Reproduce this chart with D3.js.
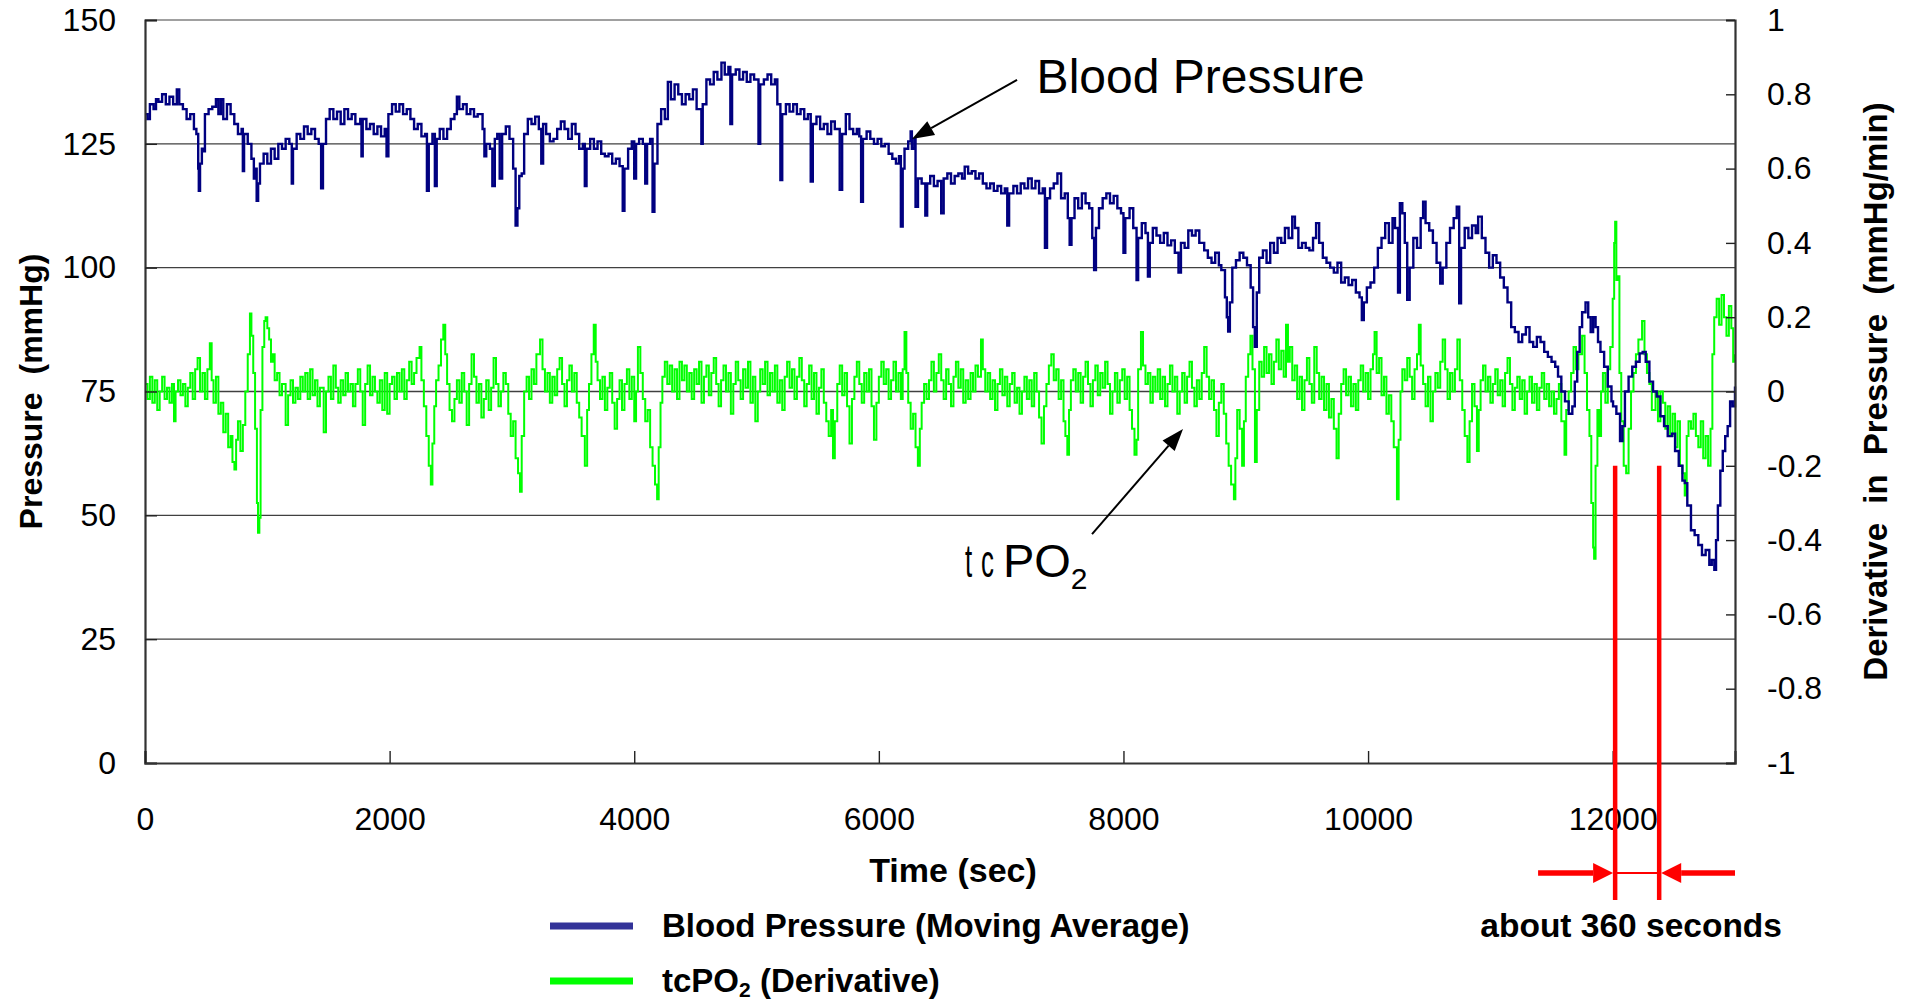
<!DOCTYPE html>
<html><head><meta charset="utf-8">
<script src="https://cdn.jsdelivr.net/npm/d3@7"></script>
<style>
body{margin:0;background:#fff;}
svg{display:block;}
text{font-family:"Liberation Sans",Arial,sans-serif;fill:#000;}
</style>
</head><body>
<svg id="chart" width="1912" height="1001"></svg>
<script>
// ---------- data ----------
const timeTicks = [0, 2000, 4000, 6000, 8000, 10000, 12000];
const pressureTicks = [0, 25, 50, 75, 100, 125, 150];
const derivativeTicks = [-1, -0.8, -0.6, -0.4, -0.2, 0, 0.2, 0.4, 0.6, 0.8, 1];
const seriesNames = ["Blood Pressure (Moving Average)", "tcPO2 (Derivative)"];
const markerTimes = [12020, 12380];
const markerLabel = "about 360 seconds";

// Blood pressure moving average [time (sec), mmHg]
const bloodPressure = [
[0,131],[20,130],[40,133],[70,132],[90,134],[110,133.5],[140,135],[170,133],[200,134.5],[230,133],[260,136],[280,133],[310,132],[340,130],[370,131],[400,128],[420,127],[435,120],[440,115.5],[450,121],[465,124],[480,123.5],[490,131],[520,132],[550,132.5],[580,134],[600,131],[620,134],[640,130],[670,133],[700,131],[730,129],[760,127],[790,128],[800,119.5],[810,127],[840,125],[870,122],[890,118],[900,120],[913,113.5],[925,117],[940,121],[970,123],[1000,121],[1030,124],[1060,122],[1090,125],[1120,124],[1150,126],[1180,125],[1200,117],[1210,124],[1240,127],[1270,126],[1300,128.5],[1330,127],[1360,128],[1390,126],[1420,125],[1440,116],[1455,125],[1480,130],[1510,132],[1540,130],[1570,131.5],[1600,129],[1630,132],[1660,130],[1690,131],[1720,129],[1760,130],[1770,122.5],[1780,130],[1810,128],[1840,129],[1870,127],[1900,128.5],[1930,126.5],[1960,128],[1975,122.5],[1990,131],[2020,133],[2050,131.5],[2080,133],[2110,131],[2140,132],[2170,130],[2200,128],[2230,129],[2260,126.5],[2290,127],[2305,115.5],[2320,125],[2350,127],[2370,116.5],[2385,126],[2410,128],[2440,126],[2470,128],[2500,130],[2530,131],[2550,134.5],[2570,132],[2600,133],[2630,131],[2660,132],[2690,130.5],[2720,131],[2760,128],[2775,122.5],[2790,125],[2820,124],[2840,116.5],[2860,126],[2880,127],[2900,118],[2920,127],[2950,128.5],[2980,126],[3010,120],[3030,108.5],[3045,112],[3060,118.5],[3080,119],[3100,127],[3130,130],[3160,129],[3190,130.5],[3220,128],[3240,121],[3255,129],[3280,127],[3310,125.5],[3340,126],[3370,128],[3400,129.5],[3430,128],[3460,126],[3490,129],[3520,127],[3550,124],[3580,125],[3596,116.5],[3610,124],[3640,126],[3670,124],[3700,125.5],[3730,123],[3760,122.5],[3790,123],[3820,121],[3850,122],[3880,120.5],[3906,111.5],[3920,120],[3950,124],[3980,125.5],[4000,118],[4015,125],[4040,126],[4070,125],[4090,117],[4105,125],[4130,126],[4150,111.3],[4165,121],[4190,129],[4220,132],[4250,130],[4275,137.5],[4300,134],[4330,137],[4360,135],[4390,133],[4420,135],[4450,134],[4480,136],[4510,132],[4549,125],[4560,133],[4590,138],[4620,137],[4650,139.5],[4680,138],[4713,141.4],[4740,139],[4770,140.5],[4786,129],[4800,139],[4830,140],[4860,138],[4890,139.5],[4920,137.5],[4950,139],[4980,138],[5016,125],[5030,137],[5060,138],[5090,139],[5120,137],[5150,138],[5170,133],[5195,117.7],[5210,131],[5240,133],[5270,131.5],[5300,133],[5330,131],[5360,132],[5390,130],[5420,131],[5443,117.4],[5460,129],[5490,130.5],[5520,128],[5550,129],[5580,127],[5610,129.5],[5640,128],[5680,115.7],[5700,127],[5730,131],[5760,128],[5790,127],[5820,128],[5840,126.5],[5855,113.3],[5870,126],[5900,127.5],[5930,126],[5960,125],[5990,126],[6020,124.5],[6050,125],[6080,123],[6110,122],[6140,121],[6165,122.5],[6180,108.3],[6195,120],[6210,124],[6240,125.5],[6260,127.5],[6270,124],[6290,126],[6300,112.3],[6320,118],[6350,117],[6380,110.5],[6395,117],[6420,118.5],[6450,116.5],[6480,117.5],[6510,111],[6530,118],[6560,119],[6590,117],[6620,118.5],[6650,119],[6680,118],[6702,120.4],[6730,119],[6760,119.5],[6790,118],[6820,119],[6850,117],[6880,116],[6910,117],[6940,115.5],[6970,116.5],[7000,115],[7030,116],[7050,108.5],[7065,115],[7100,116.5],[7130,115],[7160,117],[7190,116],[7220,118],[7250,116],[7280,117.5],[7310,115],[7340,116],[7358,104],[7375,114],[7400,116],[7430,117],[7460,119],[7490,114],[7520,115],[7545,110],[7560,104.6],[7575,110],[7600,114],[7630,112],[7660,115],[7690,113],[7720,112],[7745,106],[7760,99.5],[7775,108],[7800,112],[7830,114],[7860,115],[7890,113],[7920,114.5],[7950,112],[7980,111],[8000,103],[8015,110],[8050,112],[8080,108],[8107,97.5],[8120,106],[8150,109],[8180,107],[8200,98.2],[8215,105],[8240,108],[8270,106.5],[8300,105],[8330,107],[8360,104.5],[8390,105.5],[8420,103],[8450,99],[8470,105],[8500,104],[8530,107.5],[8560,106.5],[8590,107.5],[8620,105],[8660,103.5],[8690,102],[8720,101],[8750,103],[8780,100.5],[8800,99.5],[8830,94],[8845,90],[8856,87.1],[8870,93],[8890,100],[8920,101.5],[8950,103],[8980,102],[9010,100.5],[9040,96],[9060,88],[9074,84],[9090,95],[9110,102],[9140,103.5],[9170,101],[9200,105],[9230,103],[9260,106],[9290,105],[9320,108],[9350,106],[9380,110.3],[9402,108],[9430,104],[9460,105],[9490,104],[9520,103.5],[9550,106],[9575,109],[9600,105],[9630,102],[9660,101],[9690,100],[9720,99],[9750,101],[9780,97],[9810,98],[9840,96.5],[9870,97.5],[9900,95],[9930,94],[9949,89.4],[9965,93],[9990,96],[10020,97],[10050,100],[10080,104],[10110,106],[10140,109],[10170,105],[10200,110],[10220,108],[10245,95],[10260,113],[10280,111],[10300,105],[10320,93.5],[10340,100],[10370,106],[10400,104],[10430,110],[10450,113.3],[10470,109],[10500,107.5],[10530,105],[10560,101],[10590,96.8],[10610,100],[10640,105],[10670,108],[10700,110],[10725,112.3],[10745,92.8],[10760,104],[10790,108],[10820,106],[10850,108.5],[10880,107],[10900,110.3],[10930,106],[10960,103],[10990,100],[11020,102.5],[11050,101],[11080,98],[11110,96],[11140,93],[11170,88],[11200,87],[11230,85],[11260,86.5],[11290,88],[11320,85],[11350,84],[11380,86],[11410,85],[11440,83],[11470,82],[11500,81],[11530,80],[11553,78],[11580,75],[11610,73],[11640,70.5],[11670,72],[11690,77],[11710,83],[11730,88],[11750,91],[11778,93],[11800,90],[11820,87],[11840,90],[11860,88],[11880,85],[11900,83],[11930,80],[11960,76],[11990,73],[12003,72],[12030,70.5],[12060,65],[12080,68],[12100,75],[12130,78],[12160,80],[12190,81],[12220,82.7],[12245,83],[12270,81],[12300,77],[12330,75],[12360,74],[12390,70],[12420,68],[12450,66],[12485,66.5],[12510,63],[12540,60],[12570,57],[12590,56.5],[12610,52],[12640,47],[12670,46],[12700,44],[12730,42],[12760,43],[12790,40],[12810,41],[12831,39],[12845,45],[12860,52],[12880,59],[12900,63],[12920,66],[12940,68],[12960,73],[12980,72],[13000,76]
];

// tcPO2 derivative [time (sec), mmHg/min]
const tcpo2Derivative = [
[0,0.02],[20,-0.02],[40,0.04],[60,-0.03],[80,0.03],[100,-0.05],[120,0.0],[140,0.04],[160,-0.02],[180,0.01],[200,-0.03],[220,0.02],[237,-0.08],[250,0.0],[270,0.03],[290,-0.01],[310,0.02],[330,-0.04],[350,0.01],[370,0.05],[390,-0.02],[410,0.06],[430,0.09],[450,0.0],[470,0.05],[490,-0.02],[510,0.06],[530,0.13],[545,0.03],[560,-0.03],[580,0.04],[600,-0.06],[620,-0.03],[640,-0.11],[660,-0.06],[680,-0.15],[700,-0.12],[715,-0.19],[731,-0.21],[745,-0.13],[760,-0.08],[780,-0.16],[800,-0.09],[820,0.0],[840,0.1],[858,0.21],[870,0.15],[885,0.05],[900,-0.1],[915,-0.3],[924,-0.38],[935,-0.34],[945,-0.05],[960,0.12],[975,0.19],[986,0.2],[1000,0.17],[1015,0.14],[1030,0.08],[1045,0.1],[1060,0.03],[1080,0.05],[1100,-0.01],[1120,0.02],[1150,-0.09],[1170,-0.01],[1190,0.03],[1210,-0.03],[1230,0.01],[1250,-0.02],[1270,0.04],[1290,0.0],[1310,0.05],[1330,-0.02],[1350,0.06],[1370,-0.01],[1390,0.03],[1410,-0.04],[1430,0.01],[1461,-0.11],[1480,0.0],[1500,0.04],[1520,-0.02],[1540,0.07],[1560,0.01],[1580,-0.03],[1600,0.03],[1620,-0.01],[1640,0.05],[1660,0.0],[1680,0.02],[1700,-0.04],[1720,0.02],[1740,0.06],[1760,0.0],[1780,-0.09],[1800,0.02],[1820,0.07],[1840,-0.01],[1860,0.04],[1880,0.0],[1900,-0.03],[1920,0.03],[1940,-0.05],[1960,0.05],[1980,-0.06],[2000,0.02],[2020,0.04],[2040,-0.02],[2060,0.05],[2080,0.0],[2100,0.06],[2120,-0.02],[2140,0.03],[2160,0.08],[2180,0.02],[2200,0.05],[2220,0.09],[2245,0.12],[2260,0.03],[2280,-0.04],[2300,-0.12],[2320,-0.2],[2337,-0.25],[2350,-0.14],[2365,-0.04],[2380,0.03],[2400,0.07],[2420,0.14],[2439,0.18],[2455,0.1],[2470,0.02],[2490,-0.05],[2510,-0.08],[2530,-0.02],[2550,0.03],[2570,-0.03],[2590,0.05],[2610,0.0],[2630,-0.09],[2650,0.02],[2670,0.1],[2690,0.04],[2710,-0.03],[2730,0.02],[2750,-0.07],[2770,-0.02],[2790,0.03],[2810,-0.05],[2830,0.01],[2850,0.09],[2870,0.02],[2890,-0.04],[2910,0.0],[2930,0.05],[2950,0.02],[2970,-0.06],[2990,-0.12],[3010,-0.08],[3030,-0.18],[3050,-0.22],[3066,-0.27],[3080,-0.12],[3100,0.0],[3120,0.04],[3140,-0.02],[3160,0.06],[3180,0.02],[3200,0.1],[3230,0.14],[3250,0.06],[3270,0.0],[3290,0.05],[3310,-0.03],[3330,0.04],[3350,-0.01],[3370,0.06],[3390,0.09],[3410,0.02],[3430,-0.04],[3450,0.03],[3470,0.07],[3490,0.0],[3510,0.05],[3530,-0.03],[3550,-0.07],[3570,-0.12],[3596,-0.2],[3615,-0.05],[3630,0.02],[3650,0.1],[3669,0.18],[3685,0.08],[3700,0.03],[3720,-0.02],[3740,0.04],[3760,-0.05],[3780,0.01],[3800,0.05],[3820,-0.03],[3840,-0.1],[3860,-0.02],[3880,0.03],[3900,-0.05],[3920,0.02],[3940,0.06],[3960,-0.02],[3980,0.04],[4000,-0.08],[4015,0.0],[4030,0.12],[4050,0.05],[4070,-0.02],[4090,-0.08],[4110,-0.05],[4130,-0.15],[4150,-0.2],[4170,-0.25],[4187,-0.29],[4200,-0.15],[4215,-0.03],[4230,0.04],[4250,0.08],[4270,0.02],[4290,0.07],[4310,0.0],[4330,0.06],[4350,-0.02],[4370,0.08],[4390,0.03],[4410,0.07],[4430,0.0],[4450,0.05],[4470,-0.02],[4490,0.06],[4510,0.02],[4530,0.08],[4550,-0.03],[4570,0.04],[4590,0.07],[4610,-0.01],[4630,0.05],[4650,0.09],[4670,0.02],[4690,-0.04],[4710,0.03],[4730,0.07],[4750,0.0],[4770,0.05],[4790,-0.06],[4810,0.02],[4830,0.08],[4850,0.03],[4870,-0.02],[4890,0.06],[4910,0.01],[4930,0.08],[4950,-0.03],[4970,0.04],[4990,-0.08],[5010,0.0],[5030,0.06],[5050,0.02],[5070,0.08],[5090,-0.01],[5110,0.05],[5130,0.0],[5150,0.07],[5170,-0.03],[5190,0.03],[5210,-0.05],[5230,0.04],[5250,0.08],[5270,0.01],[5290,0.06],[5310,-0.02],[5330,0.04],[5350,0.09],[5370,0.03],[5390,-0.04],[5410,0.02],[5430,0.07],[5450,-0.02],[5470,0.05],[5490,-0.06],[5510,0.01],[5530,0.06],[5550,-0.03],[5570,-0.08],[5590,-0.12],[5610,-0.05],[5625,-0.18],[5640,-0.08],[5660,0.02],[5680,0.07],[5700,-0.01],[5720,0.05],[5740,-0.04],[5760,-0.14],[5780,-0.02],[5800,0.04],[5820,0.08],[5840,0.02],[5860,-0.03],[5880,0.05],[5900,0.0],[5920,0.06],[5940,-0.04],[5960,-0.13],[5980,-0.03],[6000,0.04],[6020,0.08],[6040,0.02],[6060,0.06],[6080,-0.02],[6100,0.03],[6120,0.08],[6140,0.0],[6160,0.05],[6180,-0.02],[6195,0.06],[6210,0.16],[6225,0.05],[6240,-0.03],[6260,-0.1],[6280,-0.06],[6300,-0.15],[6319,-0.2],[6335,-0.1],[6350,-0.03],[6370,0.02],[6390,-0.02],[6410,0.03],[6430,0.08],[6450,0.0],[6470,0.05],[6490,0.1],[6510,0.03],[6530,-0.02],[6550,0.06],[6570,0.02],[6590,-0.04],[6610,0.04],[6630,0.08],[6650,0.01],[6670,0.06],[6690,-0.03],[6710,0.03],[6730,-0.02],[6750,0.05],[6770,0.0],[6790,0.07],[6810,0.04],[6835,0.14],[6850,0.06],[6870,0.0],[6890,0.05],[6910,-0.02],[6930,0.03],[6950,-0.05],[6970,0.02],[6990,0.06],[7010,-0.01],[7030,0.04],[7050,-0.04],[7070,0.02],[7090,0.05],[7110,-0.03],[7130,0.01],[7150,-0.06],[7170,0.0],[7190,0.04],[7210,-0.02],[7230,0.03],[7250,-0.04],[7270,0.05],[7290,0.0],[7310,-0.07],[7330,-0.14],[7350,-0.04],[7370,0.02],[7390,0.07],[7410,0.1],[7430,0.03],[7450,0.06],[7470,-0.02],[7490,0.03],[7510,-0.08],[7525,-0.12],[7541,-0.17],[7555,-0.05],[7570,0.03],[7590,0.06],[7610,0.0],[7630,0.05],[7650,-0.03],[7670,0.04],[7690,0.08],[7710,0.02],[7730,-0.04],[7750,0.03],[7770,0.07],[7790,-0.01],[7810,0.05],[7830,0.01],[7850,0.08],[7870,0.02],[7890,-0.06],[7910,0.0],[7930,0.05],[7950,-0.03],[7970,0.03],[7990,0.06],[8010,-0.02],[8030,0.04],[8050,-0.05],[8070,-0.1],[8090,-0.17],[8107,-0.13],[8120,0.06],[8143,0.16],[8160,0.07],[8180,0.02],[8200,0.05],[8220,-0.03],[8240,0.04],[8260,0.0],[8280,0.06],[8300,-0.02],[8320,0.04],[8340,-0.04],[8360,0.02],[8380,0.07],[8400,0.0],[8420,0.04],[8440,-0.06],[8460,0.0],[8480,0.05],[8500,-0.03],[8520,0.04],[8540,0.08],[8560,0.01],[8580,-0.04],[8600,0.03],[8620,-0.02],[8640,0.05],[8660,0.12],[8680,0.04],[8700,-0.02],[8720,0.03],[8740,-0.05],[8760,-0.12],[8780,-0.03],[8800,0.02],[8820,-0.06],[8840,-0.14],[8860,-0.2],[8880,-0.25],[8903,-0.29],[8915,-0.18],[8930,-0.05],[8950,-0.1],[8970,-0.2],[8985,-0.08],[9000,0.04],[9020,0.1],[9038,0.15],[9055,0.06],[9075,-0.19],[9090,-0.05],[9110,0.08],[9130,0.04],[9150,0.12],[9170,0.05],[9190,0.1],[9210,0.02],[9230,0.08],[9250,0.14],[9270,0.06],[9290,0.11],[9310,0.04],[9329,0.18],[9345,0.08],[9360,0.12],[9380,0.03],[9400,0.07],[9420,-0.02],[9440,0.04],[9460,-0.05],[9480,0.03],[9500,0.09],[9520,0.02],[9540,-0.03],[9560,0.12],[9580,0.05],[9600,-0.02],[9620,0.04],[9640,-0.05],[9660,0.02],[9680,-0.07],[9700,-0.02],[9720,-0.1],[9742,-0.18],[9760,-0.06],[9780,0.02],[9800,0.06],[9820,-0.01],[9840,0.04],[9860,-0.04],[9880,0.02],[9900,-0.05],[9920,0.03],[9940,0.07],[9960,0.0],[9980,0.05],[10000,-0.02],[10020,0.06],[10040,0.1],[10053,0.16],[10070,0.05],[10090,0.09],[10110,-0.01],[10130,0.04],[10150,-0.06],[10170,-0.01],[10190,-0.08],[10210,-0.15],[10236,-0.29],[10250,-0.13],[10265,0.0],[10280,0.06],[10300,0.03],[10320,0.09],[10340,0.04],[10360,-0.02],[10380,0.06],[10400,0.1],[10415,0.18],[10430,0.07],[10450,0.02],[10470,-0.04],[10490,0.04],[10510,-0.08],[10530,0.0],[10550,0.05],[10570,0.01],[10590,0.08],[10610,0.14],[10630,0.06],[10650,-0.02],[10670,0.05],[10690,0.0],[10710,0.06],[10730,0.14],[10750,0.03],[10770,-0.05],[10790,-0.12],[10812,-0.19],[10830,-0.08],[10850,0.02],[10870,-0.04],[10890,-0.16],[10905,-0.05],[10920,0.03],[10940,0.07],[10960,0.0],[10980,0.04],[11000,-0.03],[11020,0.02],[11040,0.06],[11060,-0.01],[11080,0.03],[11100,-0.04],[11120,0.05],[11140,0.09],[11160,0.02],[11180,-0.05],[11200,0.01],[11220,0.04],[11240,-0.02],[11260,0.03],[11280,-0.06],[11300,0.0],[11320,0.04],[11340,-0.03],[11360,0.02],[11380,-0.05],[11400,0.01],[11420,0.05],[11440,-0.02],[11460,0.02],[11480,-0.04],[11500,0.0],[11520,-0.06],[11540,-0.02],[11560,0.02],[11580,-0.08],[11606,-0.17],[11620,-0.05],[11640,0.0],[11660,0.05],[11680,0.12],[11700,0.06],[11720,0.1],[11750,0.15],[11770,0.05],[11790,-0.05],[11810,-0.12],[11825,-0.3],[11840,-0.42],[11848,-0.45],[11860,-0.2],[11875,-0.05],[11890,-0.12],[11905,0.0],[11920,0.05],[11940,-0.03],[11960,0.06],[11980,0.12],[12000,0.25],[12012,0.4],[12020,0.457],[12030,0.3],[12040,0.31],[12055,0.05],[12070,-0.08],[12090,-0.2],[12110,-0.22],[12130,-0.1],[12150,0.0],[12170,0.05],[12190,0.1],[12210,0.14],[12240,0.19],[12260,0.1],[12280,0.05],[12300,0.02],[12320,-0.05],[12350,0.0],[12370,-0.08],[12390,0.0],[12410,-0.03],[12430,-0.1],[12450,-0.04],[12470,-0.12],[12490,-0.06],[12510,-0.15],[12530,-0.08],[12550,-0.2],[12570,-0.22],[12589,-0.28],[12605,-0.12],[12620,-0.08],[12640,-0.1],[12660,-0.06],[12680,-0.12],[12700,-0.15],[12720,-0.08],[12740,-0.18],[12760,-0.12],[12780,-0.2],[12800,-0.1],[12815,0.1],[12830,0.2],[12850,0.25],[12870,0.18],[12890,0.26],[12910,0.2],[12930,0.15],[12950,0.23],[12970,0.17],[12985,0.08],[13000,0.1]
];

// ---------- layout ----------
const svg = d3.select("#chart");
const L = 145, R = 1735, T = 20, B = 763;
const x = d3.scaleLinear().domain([0, 13000]).range([L, R]);
const yL = d3.scaleLinear().domain([0, 150]).range([B, T]);
const yR = d3.scaleLinear().domain([-1, 1]).range([B, T]);

// gridlines
svg.append("g").selectAll("line")
  .data(pressureTicks.filter(v => v > 0))
  .join("line")
  .attr("x1", L).attr("x2", R)
  .attr("y1", d => yL(d)).attr("y2", d => yL(d))
  .attr("stroke", d => d === 150 ? "#a0a0a0" : "#404040")
  .attr("stroke-width", d => d === 150 ? 2 : 1.4);

// series (step-like, as sampled by the monitor)
const lineG = d3.line().curve(d3.curveStepAfter).x(d => x(d[0])).y(d => yR(d[1]));
const lineB = d3.line().curve(d3.curveStepAfter).x(d => x(d[0])).y(d => yL(d[1]));
svg.append("path").datum(tcpo2Derivative).attr("d", lineG)
  .attr("fill", "none").attr("stroke", "#00ff00").attr("stroke-width", 2);
svg.append("path").datum(bloodPressure).attr("d", lineB)
  .attr("fill", "none").attr("stroke", "#000080").attr("stroke-width", 2.4);

// axes
const tickFont = g => g.selectAll("text").style("font-size", "32px").style("font-family", "'Liberation Sans',Arial,sans-serif").attr("fill", "#000");
const axL = svg.append("g").attr("transform", `translate(${L},0)`)
  .call(d3.axisLeft(yL).tickValues(pressureTicks).tickSize(-12).tickPadding(29).tickFormat(d3.format("d")));
axL.call(tickFont);
const axB = svg.append("g").attr("transform", `translate(0,${B})`)
  .call(d3.axisBottom(x).tickValues(timeTicks).tickSize(-12).tickPadding(44).tickFormat(d3.format("d")));
axB.call(tickFont);
const axR = svg.append("g").attr("transform", `translate(${R},0)`)
  .call(d3.axisRight(yR).tickValues(derivativeTicks).tickSize(-9).tickPadding(32).tickFormat(d => String(+d.toFixed(1))));
axR.call(tickFont);
[axL, axB, axR].forEach(a => {
  a.select(".domain").attr("stroke", "#333").attr("stroke-width", 2.2);
  a.selectAll(".tick line").attr("stroke", "#222").attr("stroke-width", 1.4);
});

// axis titles
svg.append("text").attr("transform", `translate(42,${(T + B) / 2}) rotate(-90)`)
  .attr("text-anchor", "middle").style("font-size", "32px").style("font-weight", "bold").style("word-spacing", "9px")
  .text("Pressure (mmHg)");
svg.append("text").attr("transform", `translate(1887,${(T + B) / 2}) rotate(-90)`)
  .attr("text-anchor", "middle").style("font-size", "33px").style("font-weight", "bold").style("word-spacing", "10px")
  .text("Derivative in Pressure (mmHg/min)");
svg.append("text").attr("x", (L + R) / 2 + 13).attr("y", 882)
  .attr("text-anchor", "middle").style("font-size", "34px").style("font-weight", "bold")
  .text("Time (sec)");

// legend
const legendColors = ["#333399", "#00ff00"];
const legendY = [926, 981];
seriesNames.forEach((name, i) => {
  svg.append("line").attr("x1", 550).attr("x2", 633).attr("y1", legendY[i]).attr("y2", legendY[i])
    .attr("stroke", legendColors[i]).attr("stroke-width", 7);
  const t = svg.append("text").attr("x", 662).attr("y", legendY[i] + 11)
    .style("font-size", "33px").style("font-weight", "bold");
  if (name.startsWith("tcPO2")) {
    t.append("tspan").text("tcPO");
    t.append("tspan").text("2").style("font-size", "21px").attr("dy", 5);
    t.append("tspan").text(name.slice(5)).attr("dy", -5);
  } else t.text(name);
});

// annotations
function arrow(x1, y1, x2, y2) {
  const ang = Math.atan2(y2 - y1, x2 - x1), len = 22, w = 8;
  const bx = x2 - len * Math.cos(ang), by = y2 - len * Math.sin(ang);
  svg.append("line").attr("x1", x1).attr("y1", y1).attr("x2", bx).attr("y2", by)
    .attr("stroke", "#000").attr("stroke-width", 2);
  svg.append("path").attr("d", `M${x2},${y2}L${bx + w * Math.sin(ang)},${by - w * Math.cos(ang)}L${bx - w * Math.sin(ang)},${by + w * Math.cos(ang)}Z`)
    .attr("fill", "#000");
}
// Blood Pressure label
arrow(x(7130), yL(137.9), x(6271), yL(126));
svg.append("text").attr("x", x(7290)).attr("y", 93).style("font-size", "48px").text("Blood Pressure");
// tcPO2 label
arrow(x(7743), yR(-0.384), x(8487), yR(-0.101));
const tl = svg.append("g").attr("transform", `translate(${x(6704)},577)`);
tl.append("text").attr("transform", "scale(0.55,1)").style("font-size", "47px").text("t");
tl.append("text").attr("transform", "translate(16,0) scale(0.55,1)").style("font-size", "47px").text("c");
const po = tl.append("text").attr("x", 38).style("font-size", "47px");
po.append("tspan").text("PO");
po.append("tspan").text("2").style("font-size", "30px").attr("dy", 12);

// 360-second markers
const red = "#ff0000";
svg.selectAll(".marker").data(markerTimes).join("line")
  .attr("x1", d => x(d)).attr("x2", d => x(d))
  .attr("y1", yR(-0.2)).attr("y2", 900)
  .attr("stroke", red).attr("stroke-width", 4.5);
const ay = 873;
svg.append("line").attr("x1", x(markerTimes[0])).attr("x2", x(markerTimes[1])).attr("y1", ay).attr("y2", ay)
  .attr("stroke", red).attr("stroke-width", 2);
function redArrow(fromX, tipX) {
  const dir = Math.sign(tipX - fromX), hl = 20, hw = 10;
  svg.append("line").attr("x1", fromX).attr("x2", tipX - dir * hl).attr("y1", ay).attr("y2", ay)
    .attr("stroke", red).attr("stroke-width", 5.5);
  svg.append("path").attr("d", `M${tipX},${ay}L${tipX - dir * hl},${ay - hw}L${tipX - dir * hl},${ay + hw}Z`).attr("fill", red);
}
redArrow(x(11390), x(markerTimes[0]) - 2);
redArrow(x(13000), x(markerTimes[1]) + 2);
svg.append("text").attr("x", (x(markerTimes[0]) + x(markerTimes[1])) / 2 - 6).attr("y", 937)
  .attr("text-anchor", "middle").style("font-size", "33.5px").style("font-weight", "bold").text(markerLabel);
</script>
</body></html>
